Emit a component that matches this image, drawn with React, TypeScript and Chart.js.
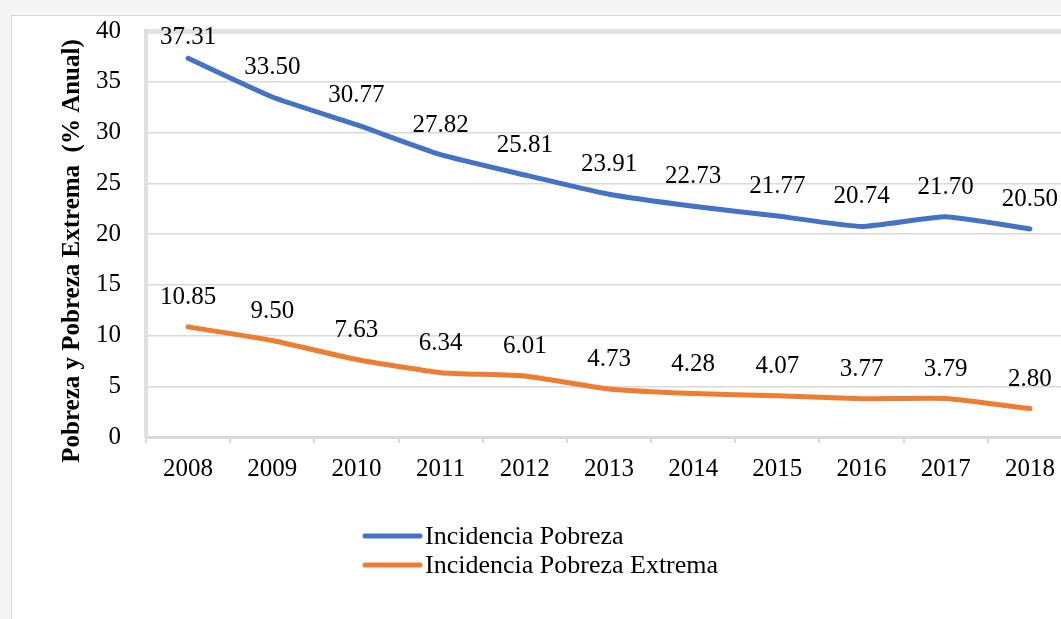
import React, { useEffect, useRef } from "react";
import { Chart, registerables } from "chart.js";

Chart.register(...registerables);

const years = ["2008", "2009", "2010", "2011", "2012", "2013", "2014", "2015", "2016", "2017", "2018"];
const pobreza = [37.31, 33.5, 30.77, 27.82, 25.81, 23.91, 22.73, 21.77, 20.74, 21.7, 20.5];
const pobrezaExtrema = [10.85, 9.5, 7.63, 6.34, 6.01, 4.73, 4.28, 4.07, 3.77, 3.79, 2.8];
const seriesLabels = ["Incidencia Pobreza", "Incidencia Pobreza Extrema"];
const seriesColors = ["#4472C4", "#ED7D31"];
const yMin = 0;
const yMax = 40;
const yStep = 5;
const yTitle = "Pobreza y Pobreza Extrema  (% Anual)";

const FONT = "'Liberation Serif', 'Times New Roman', serif";

const overlayPlugin = {
  id: "overlay",
  afterDatasetsDraw(chart: any) {
    const ctx = chart.ctx;
    const area = chart.chartArea;
    ctx.save();
    // data labels
    ctx.font = `25px ${FONT}`;
    ctx.fillStyle = "#000";
    ctx.textAlign = "center";
    ctx.textBaseline = "alphabetic";
    chart.data.datasets.forEach((ds: any, di: number) => {
      const meta = chart.getDatasetMeta(di);
      meta.data.forEach((el: any, i: number) => {
        const v = ds.data[i];
        const y = Math.max(el.y - 23, area.top + 13);
        ctx.fillText(Number(v).toFixed(2), el.x, y);
      });
    });
    // axis title
    ctx.save();
    ctx.translate(61, 235);
    ctx.rotate(-Math.PI / 2);
    ctx.font = `bold 25px ${FONT}`;
    ctx.textAlign = "center";
    ctx.textBaseline = "middle";
    ctx.fillText(yTitle, 0, 0);
    ctx.restore();
    // legend
    const lx1 = 353;
    const lx2 = 408;
    const ly0 = 520;
    const lgap = 29;
    chart.data.datasets.forEach((ds: any, di: number) => {
      const y = ly0 + di * lgap;
      ctx.beginPath();
      ctx.strokeStyle = ds.borderColor;
      ctx.lineWidth = 5;
      ctx.lineCap = "round";
      ctx.moveTo(lx1, y);
      ctx.lineTo(lx2, y);
      ctx.stroke();
      ctx.font = `26px ${FONT}`;
      ctx.fillStyle = "#000";
      ctx.textAlign = "left";
      ctx.textBaseline = "middle";
      ctx.fillText(ds.label, lx2 + 5, y + 1);
    });
    ctx.restore();
  },
};

export default function App() {
  const ref = useRef<HTMLCanvasElement | null>(null);

  useEffect(() => {
    if (!ref.current) return;
    const chart = new Chart(ref.current, {
      type: "line",
      data: {
        labels: years,
        datasets: [
          {
            label: seriesLabels[0],
            data: pobreza,
            borderColor: seriesColors[0],
            backgroundColor: seriesColors[0],
            borderWidth: 5,
            pointRadius: 0,
            tension: 0.15,
            borderCapStyle: "round",
            borderJoinStyle: "round",
          },
          {
            label: seriesLabels[1],
            data: pobrezaExtrema,
            borderColor: seriesColors[1],
            backgroundColor: seriesColors[1],
            borderWidth: 5,
            pointRadius: 0,
            tension: 0.15,
            borderCapStyle: "round",
            borderJoinStyle: "round",
          },
        ],
      },
      options: {
        responsive: false,
        animation: false,
        devicePixelRatio: 1,
        layout: { padding: { left: 0, right: 20, top: 15, bottom: 0 } },
        plugins: {
          legend: { display: false },
          tooltip: { enabled: false },
        },
        scales: {
          x: {
            offset: true,
            grid: {
              offset: true,
              drawOnChartArea: false,
              tickLength: 6,
              color: "#d9d9d9",
              lineWidth: 2,
            },
            border: { display: true, width: 3, color: "#d9d9d9" },
            ticks: {
              font: { family: FONT, size: 25 },
              color: "#000",
              padding: 11,
              maxRotation: 0,
              autoSkip: false,
            },
            afterFit: (scale: any) => {
              scale.height = 182;
            },
          },
          y: {
            min: yMin,
            max: yMax,
            ticks: {
              stepSize: yStep,
              font: { family: FONT, size: 25 },
              color: "#000",
              padding: 0,
            },
            grid: {
              drawTicks: true,
              tickLength: 25,
              tickColor: "rgba(0,0,0,0)",
              color: (c: any) => (c.tick && c.tick.value === yMax ? "#e3e3e3" : "#d9d9d9"),
              lineWidth: (c: any) => (c.tick && c.tick.value === yMax ? 5 : 1.5),
            },
            border: { display: true, width: 4, color: "#e0e0e0" },
            afterFit: (scale: any) => {
              scale.width = 134;
            },
          },
        },
      },
      plugins: [overlayPlugin],
    });
    return () => chart.destroy();
  }, []);

  return (
    <div
      style={{
        position: "fixed",
        left: 0,
        top: 0,
        width: 1061,
        height: 619,
        overflow: "hidden",
        background: "#f5f5f5",
      }}
    >
      <div
        style={{
          position: "absolute",
          left: 11,
          top: 15,
          width: 1100,
          height: 700,
          background: "#fff",
          border: "1px solid #d9d9d9",
        }}
      >
        <canvas ref={ref} width={1080} height={603} style={{ position: "absolute", left: 0, top: 0 }} />
      </div>
    </div>
  );
}
